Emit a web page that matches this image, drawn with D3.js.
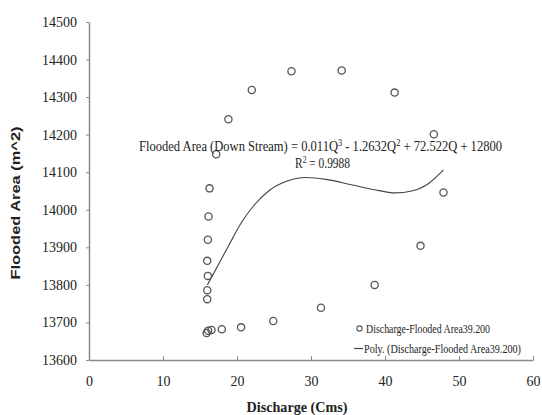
<!DOCTYPE html>
<html>
<head>
<meta charset="utf-8">
<script src="https://cdn.jsdelivr.net/npm/d3@7"></script>
<style>
  body { margin: 0; background: #fff; }
  text { font-family: "Liberation Serif", "DejaVu Serif", serif; fill: #222; }
</style>
</head>
<body>
<div id="chart"></div>
<script>
// Observed points (discharge Q, flooded area)
const discharge = [15.9, 16.1, 16.55, 17.95, 20.55, 24.9, 31.35, 38.6, 44.8, 47.9, 46.6, 41.3,
    34.14, 27.36, 22.0, 18.84, 17.19, 16.29, 16.15, 16.06, 15.98, 16.06, 15.98, 15.98];
const floodedArea = [13672, 13678, 13680, 13682, 13687, 13704, 13739, 13800, 13904, 14046, 14201, 14312,
    14371, 14369, 14319, 14241, 14148, 14057, 13982, 13920, 13864, 13824, 13786, 13762];

// Trend line as drawn in the picture
const trendQ = [16.0, 18.75, 20.6, 22.3, 24.4, 26.6, 29.3, 32.0, 35.6, 39.2, 41.4, 43.6, 45.9, 47.9];
const trendA = [13800, 13900, 13966, 14012, 14052, 14075, 14086, 14081, 14066, 14051, 14045, 14050, 14070, 14106];

const xTicks = [0, 10, 20, 30, 40, 50, 60];
const yTicks = [13600, 13700, 13800, 13900, 14000, 14100, 14200, 14300, 14400, 14500];

const width = 542, height = 415;
const plotLeft = 89, plotRight = 533, plotTop = 22, plotBottom = 360;

const svg = d3.select("#chart").append("svg")
    .attr("width", width)
    .attr("height", height);

const x = d3.scaleLinear().domain([0, 60]).range([plotLeft, plotRight]);
const y = d3.scaleLinear().domain([13600, 14500]).range([plotBottom, plotTop]);

// axes
const xAxis = svg.append("g")
    .attr("transform", `translate(0,${plotBottom})`)
    .call(d3.axisBottom(x).tickValues(xTicks).tickFormat(d3.format("d"))
        .tickSizeInner(-4).tickSizeOuter(0).tickPadding(16));
const yAxis = svg.append("g")
    .attr("transform", `translate(${plotLeft},0)`)
    .call(d3.axisLeft(y).tickValues(yTicks).tickFormat(d3.format("d"))
        .tickSizeInner(3).tickSizeOuter(0).tickPadding(9));

[xAxis, yAxis].forEach(a => {
    a.select(".domain").attr("stroke", "#8a8a8a").attr("stroke-width", 1.5);
    a.selectAll(".tick line").attr("stroke", "#8a8a8a").attr("stroke-width", 1);
    a.selectAll(".tick text")
        .attr("font-family", "'Liberation Serif', serif")
        .attr("font-size", 14)
        .attr("fill", "#222");
});
xAxis.selectAll(".tick text").attr("dy", "0.71em");

// trend line
const line = d3.line()
    .x(i => x(trendQ[i]))
    .y(i => y(trendA[i]))
    .curve(d3.curveMonotoneX);

svg.append("path")
    .attr("d", line(d3.range(trendQ.length)))
    .attr("fill", "none")
    .attr("stroke", "#444")
    .attr("stroke-width", 1.1);

// points
svg.append("g").selectAll("circle")
    .data(d3.range(discharge.length))
    .join("circle")
    .attr("cx", i => x(discharge[i]))
    .attr("cy", i => y(floodedArea[i]))
    .attr("r", 3.6)
    .attr("fill", "none")
    .attr("stroke", "#555")
    .attr("stroke-width", 1.3);

// equation label
const eq = svg.append("text")
    .attr("x", 139)
    .attr("y", 151)
    .attr("font-size", 15)
    .attr("textLength", 363)
    .attr("lengthAdjust", "spacingAndGlyphs");
eq.append("tspan").text("Flooded Area (Down Stream) = 0.011Q");
eq.append("tspan").attr("dy", -5).attr("font-size", 10).text("3");
eq.append("tspan").attr("dy", 5).text(" - 1.2632Q");
eq.append("tspan").attr("dy", -5).attr("font-size", 10).text("2");
eq.append("tspan").attr("dy", 5).text(" + 72.522Q + 12800");

const r2 = svg.append("text")
    .attr("x", 295)
    .attr("y", 168)
    .attr("font-size", 15)
    .attr("textLength", 55)
    .attr("lengthAdjust", "spacingAndGlyphs");
r2.append("tspan").text("R");
r2.append("tspan").attr("dy", -5).attr("font-size", 10).text("2");
r2.append("tspan").attr("dy", 5).text(" = 0.9988");

// legend
svg.append("circle")
    .attr("cx", 359.5).attr("cy", 328.5).attr("r", 2.6)
    .attr("fill", "none").attr("stroke", "#555").attr("stroke-width", 1.1);
svg.append("text")
    .attr("x", 366).attr("y", 332.5)
    .attr("font-size", 13)
    .attr("textLength", 124)
    .attr("lengthAdjust", "spacingAndGlyphs")
    .text("Discharge-Flooded Area39.200");

svg.append("line")
    .attr("x1", 354).attr("x2", 363).attr("y1", 348.5).attr("y2", 348.5)
    .attr("stroke", "#444").attr("stroke-width", 1.2);
svg.append("text")
    .attr("x", 364).attr("y", 352.5)
    .attr("font-size", 13)
    .attr("textLength", 157)
    .attr("lengthAdjust", "spacingAndGlyphs")
    .text("Poly. (Discharge-Flooded Area39.200)");

// axis titles
svg.append("text")
    .attr("x", 297).attr("y", 412)
    .attr("text-anchor", "middle")
    .attr("font-size", 15)
    .attr("font-weight", "bold")
    .attr("textLength", 101)
    .attr("lengthAdjust", "spacingAndGlyphs")
    .text("Discharge (Cms)");

svg.append("text")
    .attr("transform", "translate(20,203) rotate(-90)")
    .attr("text-anchor", "middle")
    .style("font-family", "'Liberation Sans', Arial, sans-serif")
    .attr("font-size", 13)
    .attr("font-weight", "bold")
    .attr("textLength", 153)
    .attr("lengthAdjust", "spacingAndGlyphs")
    .text("Flooded Area (m^2)");
</script>
</body>
</html>
